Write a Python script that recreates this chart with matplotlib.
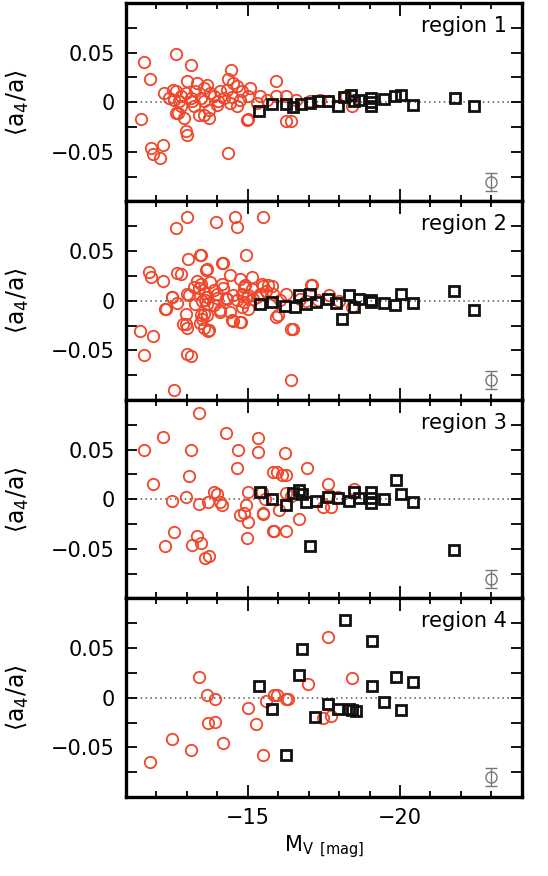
import matplotlib
matplotlib.use("Agg")
import matplotlib.pyplot as plt

plt.rcParams['mathtext.fontset'] = 'dejavusans'
plt.rcParams['font.family'] = ['DejaVu Sans']

# ---------------- data ----------------
region_names = ["region 1", "region 2", "region 3", "region 4"]

r1_red_x = [-11.49, -11.60, -11.79, -11.81, -11.87, -12.12, -12.20, -12.25, -12.65, -13.14,
            -12.97, -13.00, -12.70, -14.35, -14.45, -14.35, -14.50, -15.00, -12.54,
            -13.01, -13.34, -13.66, -13.55, -13.28, -13.77, -12.96, -12.63, -12.58, -12.79,
            -13.12, -13.45, -13.88, -14.10, -14.32, -14.21, -14.64, -14.80, -15.07, -15.02,
            -14.75, -14.42, -13.99, -13.72, -13.55, -13.72, -13.23, -12.79, -12.63, -12.90,
            -13.39, -14.97, -14.64, -15.40, -15.62, -15.29, -15.94, -16.27, -16.60, -17.03,
            -17.36, -17.68, -16.27, -16.43, -15.94, -18.22, -18.44, -13.18, -13.55, -14.01,
            -14.47, -12.74, -12.41]
r1_red_y = [-0.017, 0.041, 0.023, -0.046, -0.052, -0.056, -0.043, 0.009, 0.049, 0.038,
            -0.029, -0.033, -0.011, -0.051, 0.032, 0.023, 0.019, -0.017, 0.012,
            0.021, 0.019, 0.017, 0.014, 0.011, 0.009, 0.009, 0.011, 0.002, 0.006,
            0.004, 0.004, 0.006, 0.011, 0.012, 0.004, 0.016, 0.011, 0.014, 0.006,
            0.002, -0.001, -0.003, -0.008, -0.013, -0.016, -0.004, -0.004, -0.011, -0.016,
            -0.013, -0.018, -0.004, 0.006, 0.002, -0.001, 0.006, 0.006, 0.002, 0.001,
            0.002, 0.001, -0.019, -0.019, 0.021, 0.006, -0.004, 0.001, 0.001, 0.001,
            0.005, 0.001, 0.004]
r1_blk_x = [-15.38, -15.78, -16.27, -16.49, -16.76, -17.03, -17.30, -17.63, -17.95, -18.17,
            -18.39, -18.50, -18.66, -19.04, -19.04, -19.04, -19.47, -19.85, -20.02, -20.42,
            -21.81, -22.44]
r1_blk_y = [-0.009, -0.002, -0.002, -0.005, -0.002, -0.001, 0.001, 0.001, -0.004, 0.005,
            0.007, 0.001, 0.002, 0.004, 0.000, -0.004, 0.003, 0.006, 0.007, -0.003,
            0.004, -0.004]

r2_red_x = [-11.47, -11.60, -11.76, -11.82, -11.87, -12.20, -12.27, -12.52, -12.59, -12.63,
            -12.69, -12.79, -12.69, -12.96, -12.88, -13.00, -13.01, -13.03, -13.01, -13.14,
            -13.06, -13.45, -13.34, -13.45, -13.40, -13.66, -13.50, -13.60, -13.66, -13.45,
            -13.66, -13.55, -13.68, -13.42, -13.94, -13.88, -14.00, -14.10, -14.19, -14.42,
            -14.20, -14.30, -14.50, -14.51, -14.59, -14.64, -14.94, -14.77, -14.75, -14.91,
            -14.86, -15.02, -15.02, -15.18, -15.13, -15.51, -15.50, -15.60, -15.80,
            -13.42, -14.15, -13.64, -13.23, -13.77, -14.15, -14.86, -15.46, -15.67, -15.13,
            -14.80, -14.97, -15.29, -14.64, -14.32, -13.99, -13.66, -13.01, -12.52, -12.31,
            -13.28, -13.61, -13.88, -14.10, -14.42, -14.80, -15.40, -15.83, -16.27, -16.05,
            -15.94, -17.08, -16.43, -14.75, -14.48, -13.55, -13.50, -12.96, -13.72,
            -16.00, -16.47, -16.43, -17.12, -17.68, -18.44, -16.70, -16.90, -17.30, -18.00]
r2_red_y = [-0.030, -0.055, 0.029, 0.024, -0.036, 0.020, -0.008, 0.004, -0.090, 0.073,
            0.028, 0.027, -0.002, -0.013, -0.023, -0.027, 0.084, 0.042, -0.054, -0.056,
            0.006, 0.046, 0.020, 0.017, 0.013, 0.032, 0.000, 0.008, -0.003, -0.014,
            -0.014, -0.027, -0.031, -0.022, 0.079, 0.011, 0.003, -0.011, 0.038, 0.026,
            0.013, 0.003, 0.006, -0.020, 0.084, 0.074, 0.046, -0.021, 0.022, 0.016,
            -0.001, 0.006, -0.008, 0.002, 0.024, 0.084, 0.015, 0.010, 0.015,
            0.046, 0.038, 0.031, 0.014, 0.019, 0.017, 0.014, 0.017, 0.016, 0.012,
            0.007, 0.004, 0.004, 0.001, 0.002, 0.007, 0.004, 0.007, 0.004, -0.008,
            -0.003, 0.001, -0.004, -0.009, -0.011, -0.006, 0.007, 0.007, 0.007, 0.001,
            -0.016, 0.016, -0.028, -0.021, -0.019, -0.013, -0.018, -0.023, -0.029,
            -0.014, -0.028, -0.080, 0.016, 0.006, -0.006, 0.002, 0.000, 0.001, 0.000]
r2_blk_x = [-15.40, -15.78, -16.21, -16.54, -16.68, -16.92, -17.03, -17.25, -17.63, -17.90,
            -18.11, -18.33, -18.50, -18.64, -19.04, -19.06, -19.47, -19.85, -20.02, -20.42,
            -21.79, -22.44]
r2_blk_y = [-0.003, -0.001, -0.005, -0.006, 0.006, -0.003, 0.007, -0.001, 0.002, -0.002,
            -0.018, 0.006, -0.006, 0.002, 0.001, -0.001, -0.002, -0.004, 0.007, -0.002,
            0.010, -0.009]

r3_red_x = [-11.60, -11.87, -12.20, -12.27, -12.52, -12.59, -12.98, -13.06, -13.12, -13.18,
            -13.34, -13.45, -13.40, -13.40, -13.61, -13.72, -13.68, -13.88, -13.99, -14.10,
            -14.15, -14.28, -14.67, -14.64, -14.75, -14.86, -14.94, -15.02, -15.02, -14.99,
            -15.35, -15.35, -15.49, -15.56, -15.83, -15.83, -16.21, -15.96, -16.12, -16.27,
            -16.94, -15.46, -15.51, -16.03, -16.25, -16.43, -16.68, -15.86, -16.25, -17.63,
            -17.46, -17.74, -17.68, -18.50, -17.95]
r3_red_y = [0.050, 0.015, 0.063, -0.047, -0.002, -0.033, 0.002, 0.023, 0.050, -0.046,
            -0.037, -0.044, 0.087, -0.005, -0.059, -0.057, -0.003, 0.007, 0.005, -0.003,
            -0.006, 0.067, 0.050, 0.031, -0.016, -0.014, -0.006, 0.007, -0.023, -0.039,
            0.062, 0.048, -0.015, 0.000, 0.027, -0.032, 0.047, 0.027, 0.024, 0.024,
            0.031, 0.007, -0.014, -0.011, 0.006, 0.003, -0.020, -0.032, -0.032, 0.015,
            -0.008, -0.008, 0.004, 0.010, 0.002]
r3_blk_x = [-15.40, -15.78, -16.27, -16.49, -16.68, -16.79, -16.92, -17.03, -17.25, -17.63,
            -17.95, -18.33, -18.50, -18.64, -19.04, -19.04, -19.04, -19.47, -19.87, -20.02,
            -20.42, -21.79]
r3_blk_y = [0.007, 0.000, -0.006, 0.006, 0.009, 0.005, -0.003, -0.047, -0.002, 0.002,
            0.001, -0.002, 0.007, 0.001, 0.007, 0.001, -0.004, 0.000, 0.019, 0.005,
            -0.003, -0.051]

r4_red_x = [-11.79, -12.52, -13.15, -13.40, -13.66, -13.68, -13.91, -13.91, -14.17, -15.02,
            -15.26, -15.49, -15.59, -15.86, -15.96, -16.25, -16.32, -16.97, -17.63, -17.46,
            -17.74, -18.44]
r4_red_y = [-0.065, -0.042, -0.053, 0.021, 0.003, -0.025, -0.001, -0.024, -0.046, -0.010,
            -0.026, -0.058, -0.003, 0.003, 0.003, -0.001, -0.001, 0.014, 0.061, -0.020,
            -0.018, 0.020]
r4_blk_x = [-15.38, -15.78, -16.27, -16.68, -16.78, -17.22, -17.63, -17.95, -18.20, -18.33,
            -18.44, -18.55, -19.07, -19.07, -19.48, -19.87, -20.02, -20.42]
r4_blk_y = [0.012, -0.011, -0.058, 0.023, 0.049, -0.019, -0.006, -0.011, 0.078, -0.011,
            -0.012, -0.013, 0.057, 0.012, -0.004, 0.021, -0.012, 0.016]

red_x = [r1_red_x, r2_red_x, r3_red_x, r4_red_x]
red_y = [r1_red_y, r2_red_y, r3_red_y, r4_red_y]
blk_x = [r1_blk_x, r2_blk_x, r3_blk_x, r4_blk_x]
blk_y = [r1_blk_y, r2_blk_y, r3_blk_y, r4_blk_y]

err_x = -23.0
err_y = -0.08
err_size = 0.009

y_ticks = [-0.075, -0.05, -0.025, 0.0, 0.025, 0.05, 0.075]
y_ticklabels = ["", "\u22120.05", "", "0", "", "0.05", ""]
x_major = [-15, -20]
x_major_labels = ["\u221215", "\u221220"]
x_minor = [-12, -13, -14, -16, -17, -18, -19, -21, -22, -23]

# ---------------- figure ----------------
fig, axes = plt.subplots(4, 1, figsize=(5.48, 8.76), dpi=100, sharex=True)
fig.subplots_adjust(left=0.23, right=0.952, bottom=0.0902, top=0.9966, hspace=0)

red = '#f0472b'
for i, ax in enumerate(axes):
    ax.axhline(0, color='#555555', ls=(0, (1, 2.2)), lw=1.1, zorder=1)
    ax.plot(red_x[i], red_y[i], 'o', mfc='none', mec=red, ms=8.2, mew=1.3, zorder=2)
    ax.plot(blk_x[i], blk_y[i], 's', mfc='none', mec='#111111', ms=7.2, mew=2.0, zorder=3)
    ax.errorbar([err_x], [err_y], yerr=[err_size], fmt='o', mfc='none', mec='#777777',
                ecolor='#777777', ms=8, mew=1.0, elinewidth=1.0, capsize=4.5, capthick=1.0,
                zorder=3)
    ax.set_xlim(-11, -24)
    ax.set_ylim(-0.1, 0.1)
    ax.set_yticks(y_ticks)
    ax.set_yticklabels(y_ticklabels)
    ax.set_xticks(x_major)
    ax.set_xticks(x_minor, minor=True)
    ax.set_xticklabels(x_major_labels)
    ax.tick_params(axis='both', which='both', direction='in', top=True, right=True,
                   labelsize=15, width=1.3, color='black')
    ax.tick_params(axis='y', which='major', length=8)
    ax.tick_params(axis='x', which='major', length=9, pad=8)
    ax.tick_params(axis='x', which='minor', length=4.5)
    ax.tick_params(axis='y', pad=8)
    for s in ax.spines.values():
        s.set_linewidth(2.4)
    ax.set_ylabel(r'$\langle\mathrm{a}_4/\mathrm{a}\rangle$', fontsize=17)
    ax.yaxis.set_label_coords(-0.24, 0.5)
    ax.text(0.962, 0.855, region_names[i], transform=ax.transAxes, ha='right',
            va='baseline', fontsize=15)

axes[-1].set_xlabel(r'M$_\mathrm{V}$ $_\mathrm{[mag]}$', fontsize=15, labelpad=4)

fig.savefig('out.png', dpi=100)
